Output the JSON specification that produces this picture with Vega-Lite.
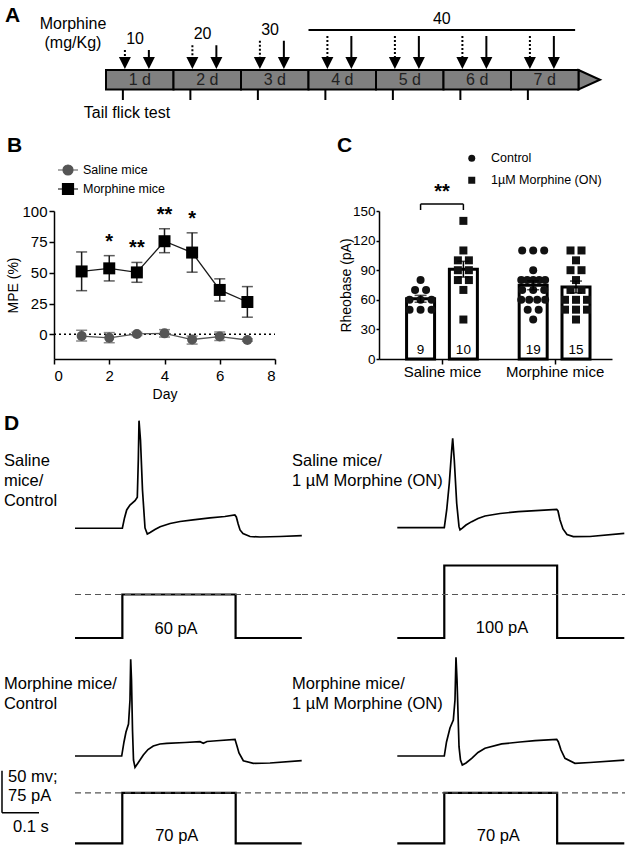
{
  "$schema": "https://vega.github.io/schema/vega-lite/v6.json",
  "padding": 0,
  "bounds": "flush",
  "spacing": 0,
  "resolve": {
    "scale": {"shape": "independent", "fill": "independent", "color": "independent", "strokeDash": "independent"},
    "legend": {"shape": "independent", "fill": "independent", "color": "independent", "strokeDash": "independent"}
  },
  "config": {
    "font": "Liberation Sans",
    "view": {"stroke": null},
    "axis": {"domainColor": "#000", "domainWidth": 1.5, "tickColor": "#000", "tickWidth": 1.5, "tickSize": 5, "labelColor": "#000", "labelFontSize": 15, "titleFontSize": 14, "titleFontWeight": "normal", "titleColor": "#000", "grid": false, "labelPadding": 2, "labelOverlap": false, "labelFont": "Liberation Sans", "titleFont": "Liberation Sans"},
    "legend": {"labelFont": "Liberation Sans", "labelColor": "#000"},
    "text": {"font": "Liberation Sans", "color": "#000"}
  },
  "datasets": {
    "days": [
      {"day": 1, "label": "1 d"}, {"day": 2, "label": "2 d"}, {"day": 3, "label": "3 d"}, {"day": 4, "label": "4 d"},
      {"day": 5, "label": "5 d"}, {"day": 6, "label": "6 d"}, {"day": 7, "label": "7 d"}
    ],
    "injections": [
      {"day": 1, "dose": 10, "inj": "1st"}, {"day": 1, "dose": 10, "inj": "2nd"},
      {"day": 2, "dose": 20, "inj": "1st"}, {"day": 2, "dose": 20, "inj": "2nd"},
      {"day": 3, "dose": 30, "inj": "1st"}, {"day": 3, "dose": 30, "inj": "2nd"},
      {"day": 4, "dose": 40, "inj": "1st"}, {"day": 4, "dose": 40, "inj": "2nd"},
      {"day": 5, "dose": 40, "inj": "1st"}, {"day": 5, "dose": 40, "inj": "2nd"},
      {"day": 6, "dose": 40, "inj": "1st"}, {"day": 6, "dose": 40, "inj": "2nd"},
      {"day": 7, "dose": 40, "inj": "1st"}, {"day": 7, "dose": 40, "inj": "2nd"}
    ],
    "doses": [
      {"dose": 10, "first": 1, "last": 1}, {"dose": 20, "first": 2, "last": 2},
      {"dose": 30, "first": 3, "last": 3}, {"dose": 40, "first": 4, "last": 7}
    ],
    "mpe": [
      {"group": "Saline mice", "day": 1, "mpe": -1.4, "lo": -5.4, "hi": 3.3},
      {"group": "Saline mice", "day": 2, "mpe": -2.8, "lo": -6.8, "hi": 1.4},
      {"group": "Saline mice", "day": 3, "mpe": 0.3, "lo": -1.0, "hi": 1.6},
      {"group": "Saline mice", "day": 4, "mpe": 0.8, "lo": -2.2, "hi": 3.8},
      {"group": "Saline mice", "day": 5, "mpe": -4.2, "lo": -7.9, "hi": -1.4},
      {"group": "Saline mice", "day": 6, "mpe": -1.8, "lo": -5.0, "hi": 1.9},
      {"group": "Saline mice", "day": 7, "mpe": -4.6, "lo": -5.5, "hi": -3.7},
      {"group": "Morphine mice", "day": 1, "mpe": 51, "lo": 35.4, "hi": 66.8},
      {"group": "Morphine mice", "day": 2, "mpe": 53.5, "lo": 43.3, "hi": 63.8, "sig": "*"},
      {"group": "Morphine mice", "day": 3, "mpe": 50.2, "lo": 42.2, "hi": 58.3, "sig": "**"},
      {"group": "Morphine mice", "day": 4, "mpe": 75.5, "lo": 66.2, "hi": 85.6, "sig": "**"},
      {"group": "Morphine mice", "day": 5, "mpe": 66.3, "lo": 50.4, "hi": 82.3, "sig": "*"},
      {"group": "Morphine mice", "day": 6, "mpe": 36, "lo": 27, "hi": 45},
      {"group": "Morphine mice", "day": 7, "mpe": 26.2, "lo": 13.9, "hi": 38.7}
    ],
    "rheo_bars": [
      {"mice": "Saline mice", "treatment": "Control", "mean": 61, "sem": 3.5, "n": 9},
      {"mice": "Saline mice", "treatment": "1µM Morphine (ON)", "mean": 91, "sem": 8, "n": 10},
      {"mice": "Morphine mice", "treatment": "Control", "mean": 74.7, "sem": 4.5, "n": 19},
      {"mice": "Morphine mice", "treatment": "1µM Morphine (ON)", "mean": 73, "sem": 6, "n": 15}
    ],
    "rheo_pts": [
      {"mice": "Saline mice", "treatment": "Control", "rheobase": 80},
      {"mice": "Saline mice", "treatment": "Control", "rheobase": 70},
      {"mice": "Saline mice", "treatment": "Control", "rheobase": 70},
      {"mice": "Saline mice", "treatment": "Control", "rheobase": 60},
      {"mice": "Saline mice", "treatment": "Control", "rheobase": 60},
      {"mice": "Saline mice", "treatment": "Control", "rheobase": 60},
      {"mice": "Saline mice", "treatment": "Control", "rheobase": 50},
      {"mice": "Saline mice", "treatment": "Control", "rheobase": 50},
      {"mice": "Saline mice", "treatment": "Control", "rheobase": 50},
      {"mice": "Saline mice", "treatment": "1µM Morphine (ON)", "rheobase": 140},
      {"mice": "Saline mice", "treatment": "1µM Morphine (ON)", "rheobase": 110},
      {"mice": "Saline mice", "treatment": "1µM Morphine (ON)", "rheobase": 100},
      {"mice": "Saline mice", "treatment": "1µM Morphine (ON)", "rheobase": 100},
      {"mice": "Saline mice", "treatment": "1µM Morphine (ON)", "rheobase": 90},
      {"mice": "Saline mice", "treatment": "1µM Morphine (ON)", "rheobase": 90},
      {"mice": "Saline mice", "treatment": "1µM Morphine (ON)", "rheobase": 80},
      {"mice": "Saline mice", "treatment": "1µM Morphine (ON)", "rheobase": 80},
      {"mice": "Saline mice", "treatment": "1µM Morphine (ON)", "rheobase": 70},
      {"mice": "Saline mice", "treatment": "1µM Morphine (ON)", "rheobase": 40},
      {"mice": "Morphine mice", "treatment": "Control", "rheobase": 110},
      {"mice": "Morphine mice", "treatment": "Control", "rheobase": 110},
      {"mice": "Morphine mice", "treatment": "Control", "rheobase": 110},
      {"mice": "Morphine mice", "treatment": "Control", "rheobase": 90},
      {"mice": "Morphine mice", "treatment": "Control", "rheobase": 80},
      {"mice": "Morphine mice", "treatment": "Control", "rheobase": 80},
      {"mice": "Morphine mice", "treatment": "Control", "rheobase": 80},
      {"mice": "Morphine mice", "treatment": "Control", "rheobase": 80},
      {"mice": "Morphine mice", "treatment": "Control", "rheobase": 80},
      {"mice": "Morphine mice", "treatment": "Control", "rheobase": 70},
      {"mice": "Morphine mice", "treatment": "Control", "rheobase": 70},
      {"mice": "Morphine mice", "treatment": "Control", "rheobase": 70},
      {"mice": "Morphine mice", "treatment": "Control", "rheobase": 60},
      {"mice": "Morphine mice", "treatment": "Control", "rheobase": 60},
      {"mice": "Morphine mice", "treatment": "Control", "rheobase": 60},
      {"mice": "Morphine mice", "treatment": "Control", "rheobase": 60},
      {"mice": "Morphine mice", "treatment": "Control", "rheobase": 50},
      {"mice": "Morphine mice", "treatment": "Control", "rheobase": 50},
      {"mice": "Morphine mice", "treatment": "Control", "rheobase": 40},
      {"mice": "Morphine mice", "treatment": "1µM Morphine (ON)", "rheobase": 110},
      {"mice": "Morphine mice", "treatment": "1µM Morphine (ON)", "rheobase": 110},
      {"mice": "Morphine mice", "treatment": "1µM Morphine (ON)", "rheobase": 100},
      {"mice": "Morphine mice", "treatment": "1µM Morphine (ON)", "rheobase": 90},
      {"mice": "Morphine mice", "treatment": "1µM Morphine (ON)", "rheobase": 90},
      {"mice": "Morphine mice", "treatment": "1µM Morphine (ON)", "rheobase": 80},
      {"mice": "Morphine mice", "treatment": "1µM Morphine (ON)", "rheobase": 70},
      {"mice": "Morphine mice", "treatment": "1µM Morphine (ON)", "rheobase": 70},
      {"mice": "Morphine mice", "treatment": "1µM Morphine (ON)", "rheobase": 60},
      {"mice": "Morphine mice", "treatment": "1µM Morphine (ON)", "rheobase": 60},
      {"mice": "Morphine mice", "treatment": "1µM Morphine (ON)", "rheobase": 60},
      {"mice": "Morphine mice", "treatment": "1µM Morphine (ON)", "rheobase": 50},
      {"mice": "Morphine mice", "treatment": "1µM Morphine (ON)", "rheobase": 50},
      {"mice": "Morphine mice", "treatment": "1µM Morphine (ON)", "rheobase": 50},
      {"mice": "Morphine mice", "treatment": "1µM Morphine (ON)", "rheobase": 40}
    ],
    "traces": [
      {"cell": "TL", "t": 0, "mV": -65}, {"cell": "TL", "t": 0.128, "mV": -65}, {"cell": "TL", "t": 0.1338, "mV": -52.7},
      {"cell": "TL", "t": 0.1397, "mV": -43.2}, {"cell": "TL", "t": 0.1486, "mV": -37.3}, {"cell": "TL", "t": 0.1622, "mV": -32.1},
      {"cell": "TL", "t": 0.1684, "mV": -28.1}, {"cell": "TL", "t": 0.1711, "mV": 16.3}, {"cell": "TL", "t": 0.173, "mV": 63.1},
      {"cell": "TL", "t": 0.177, "mV": 40.1}, {"cell": "TL", "t": 0.1824, "mV": -19.4}, {"cell": "TL", "t": 0.1892, "mV": -64.6},
      {"cell": "TL", "t": 0.1954, "mV": -71.8}, {"cell": "TL", "t": 0.203, "mV": -70}, {"cell": "TL", "t": 0.216, "mV": -66.4},
      {"cell": "TL", "t": 0.23, "mV": -63.1}, {"cell": "TL", "t": 0.257, "mV": -59.3}, {"cell": "TL", "t": 0.284, "mV": -56.9},
      {"cell": "TL", "t": 0.319, "mV": -55.1}, {"cell": "TL", "t": 0.365, "mV": -52.7}, {"cell": "TL", "t": 0.405, "mV": -51},
      {"cell": "TL", "t": 0.432, "mV": -49.2}, {"cell": "TL", "t": 0.436, "mV": -51.5}, {"cell": "TL", "t": 0.441, "mV": -59.9},
      {"cell": "TL", "t": 0.446, "mV": -67}, {"cell": "TL", "t": 0.454, "mV": -71.2}, {"cell": "TL", "t": 0.473, "mV": -74.8},
      {"cell": "TL", "t": 0.5, "mV": -75.4}, {"cell": "TL", "t": 0.554, "mV": -74.8}, {"cell": "TL", "t": 0.613, "mV": -73.8},
      {"cell": "TR", "t": 0, "mV": -64.3}, {"cell": "TR", "t": 0.127, "mV": -64.3}, {"cell": "TR", "t": 0.1335, "mV": -43.2},
      {"cell": "TR", "t": 0.1405, "mV": -11.4}, {"cell": "TR", "t": 0.147, "mV": 28.2}, {"cell": "TR", "t": 0.1497, "mV": 42.1},
      {"cell": "TR", "t": 0.154, "mV": 16.3}, {"cell": "TR", "t": 0.1605, "mV": -35.2}, {"cell": "TR", "t": 0.1668, "mV": -63.1},
      {"cell": "TR", "t": 0.1695, "mV": -67}, {"cell": "TR", "t": 0.1749, "mV": -65.2}, {"cell": "TR", "t": 0.1857, "mV": -61.1},
      {"cell": "TR", "t": 0.2011, "mV": -57.1}, {"cell": "TR", "t": 0.2181, "mV": -53.3}, {"cell": "TR", "t": 0.237, "mV": -50.4},
      {"cell": "TR", "t": 0.2778, "mV": -47.4}, {"cell": "TR", "t": 0.327, "mV": -45.2}, {"cell": "TR", "t": 0.3857, "mV": -43.8},
      {"cell": "TR", "t": 0.4308, "mV": -42.4}, {"cell": "TR", "t": 0.4343, "mV": -44.4}, {"cell": "TR", "t": 0.4397, "mV": -55.1},
      {"cell": "TR", "t": 0.4478, "mV": -65.8}, {"cell": "TR", "t": 0.4586, "mV": -72.4}, {"cell": "TR", "t": 0.4757, "mV": -75},
      {"cell": "TR", "t": 0.5208, "mV": -74.8}, {"cell": "TR", "t": 0.6135, "mV": -71},
      {"cell": "BL", "t": 0, "mV": -65}, {"cell": "BL", "t": 0.1262, "mV": -65}, {"cell": "BL", "t": 0.1324, "mV": -48.3},
      {"cell": "BL", "t": 0.1378, "mV": -36.4}, {"cell": "BL", "t": 0.1446, "mV": -26.9}, {"cell": "BL", "t": 0.1486, "mV": 1.7},
      {"cell": "BL", "t": 0.1505, "mV": 50.1}, {"cell": "BL", "t": 0.1527, "mV": 25.5}, {"cell": "BL", "t": 0.1554, "mV": -34},
      {"cell": "BL", "t": 0.1581, "mV": -69.8}, {"cell": "BL", "t": 0.1622, "mV": -78.5}, {"cell": "BL", "t": 0.1703, "mV": -73.3},
      {"cell": "BL", "t": 0.1846, "mV": -63.8}, {"cell": "BL", "t": 0.1973, "mV": -57.3}, {"cell": "BL", "t": 0.2116, "mV": -53.1},
      {"cell": "BL", "t": 0.2297, "mV": -50.7}, {"cell": "BL", "t": 0.2478, "mV": -49.9}, {"cell": "BL", "t": 0.2973, "mV": -48.9},
      {"cell": "BL", "t": 0.3378, "mV": -48}, {"cell": "BL", "t": 0.3468, "mV": -49.9}, {"cell": "BL", "t": 0.3568, "mV": -47.7},
      {"cell": "BL", "t": 0.383, "mV": -46.8}, {"cell": "BL", "t": 0.4324, "mV": -45.1}, {"cell": "BL", "t": 0.437, "mV": -51.9},
      {"cell": "BL", "t": 0.4432, "mV": -61.4}, {"cell": "BL", "t": 0.4549, "mV": -70.6}, {"cell": "BL", "t": 0.4819, "mV": -73.7},
      {"cell": "BL", "t": 0.527, "mV": -73.3}, {"cell": "BL", "t": 0.6127, "mV": -70.6},
      {"cell": "BR", "t": 0, "mV": -65}, {"cell": "BR", "t": 0.127, "mV": -65}, {"cell": "BR", "t": 0.133, "mV": -48.3},
      {"cell": "BR", "t": 0.1424, "mV": -31.7}, {"cell": "BR", "t": 0.1514, "mV": -22.1}, {"cell": "BR", "t": 0.1559, "mV": 1.7},
      {"cell": "BR", "t": 0.1586, "mV": 52.5}, {"cell": "BR", "t": 0.1614, "mV": 25.5}, {"cell": "BR", "t": 0.1668, "mV": -53.9},
      {"cell": "BR", "t": 0.1708, "mV": -69.8}, {"cell": "BR", "t": 0.1757, "mV": -75.7}, {"cell": "BR", "t": 0.1857, "mV": -73.3},
      {"cell": "BR", "t": 0.2011, "mV": -67.7}, {"cell": "BR", "t": 0.2181, "mV": -60.8}, {"cell": "BR", "t": 0.237, "mV": -55.8},
      {"cell": "BR", "t": 0.2822, "mV": -50.6}, {"cell": "BR", "t": 0.3316, "mV": -48.3}, {"cell": "BR", "t": 0.3722, "mV": -46.7},
      {"cell": "BR", "t": 0.4308, "mV": -45.1}, {"cell": "BR", "t": 0.4351, "mV": -47.9}, {"cell": "BR", "t": 0.4424, "mV": -57.9},
      {"cell": "BR", "t": 0.4532, "mV": -67.7}, {"cell": "BR", "t": 0.48, "mV": -73.7}, {"cell": "BR", "t": 0.5208, "mV": -72.7},
      {"cell": "BR", "t": 0.6135, "mV": -69.8}
    ],
    "steps": [
      {"cell": "TL", "t": 0, "pA": 0}, {"cell": "TL", "t": 0.128, "pA": 60}, {"cell": "TL", "t": 0.434, "pA": 0}, {"cell": "TL", "t": 0.613, "pA": 0},
      {"cell": "TR", "t": 0, "pA": 0}, {"cell": "TR", "t": 0.127, "pA": 100}, {"cell": "TR", "t": 0.432, "pA": 0}, {"cell": "TR", "t": 0.6135, "pA": 0},
      {"cell": "BL", "t": 0, "pA": 0}, {"cell": "BL", "t": 0.1278, "pA": 70}, {"cell": "BL", "t": 0.4343, "pA": 0}, {"cell": "BL", "t": 0.6127, "pA": 0},
      {"cell": "BR", "t": 0, "pA": 0}, {"cell": "BR", "t": 0.127, "pA": 70}, {"cell": "BR", "t": 0.432, "pA": 0}, {"cell": "BR", "t": 0.6135, "pA": 0}
    ]
  },
  "vconcat": [
    {
      "width": 625,
      "height": 211,
      "layer": [
        {
          "data": {"values": [{"part": "timeline end"}]},
          "mark": {"type": "point", "shape": "M-1,-0.907L1,0L-1,0.907Z", "size": 462, "filled": true, "fill": "#808080", "stroke": "#000", "strokeWidth": 2, "opacity": 1},
          "encoding": {
            "x": {"datum": 7.159, "type": "quantitative", "scale": {"domain": [-1.5704, 7.6889], "nice": false, "zero": false}, "axis": null},
            "y": {"datum": 79.75, "type": "quantitative", "scale": {"domain": [0, 211], "reverse": true, "nice": false, "zero": false}, "axis": null}
          }
        },
        {
          "data": {"name": "days"},
          "transform": [{"calculate": "datum.day - 1", "as": "d0"}],
          "mark": {"type": "rect", "fill": "#808080", "stroke": "#000", "strokeWidth": 2},
          "encoding": {
            "x": {"field": "d0", "type": "quantitative"},
            "x2": {"field": "day"},
            "y": {"datum": 70, "type": "quantitative"},
            "y2": {"datum": 89.5}
          }
        },
        {
          "data": {"name": "days"},
          "transform": [{"calculate": "datum.day - 0.5", "as": "dm"}],
          "mark": {"type": "text", "fontSize": 16, "color": "#222", "baseline": "middle", "align": "center"},
          "encoding": {
            "x": {"field": "dm", "type": "quantitative"},
            "y": {"datum": 79.75, "type": "quantitative"},
            "text": {"field": "label"}
          }
        },
        {
          "data": {"name": "injections"},
          "transform": [
            {"calculate": "datum.day - 1 + (datum.inj === '1st' ? 0.28 : 0.635)", "as": "ix"},
            {"calculate": "50 - (datum.dose - 10) * 0.4667", "as": "ytop"}
          ],
          "mark": {"type": "rule", "strokeWidth": 2, "color": "#000"},
          "encoding": {
            "x": {"field": "ix", "type": "quantitative"},
            "y": {"field": "ytop", "type": "quantitative"},
            "y2": {"datum": 58},
            "strokeDash": {"field": "inj", "type": "nominal", "scale": {"domain": ["1st", "2nd"], "range": [[2, 2], [1, 0]]}, "legend": null}
          }
        },
        {
          "data": {"name": "injections"},
          "transform": [{"calculate": "datum.day - 1 + (datum.inj === '1st' ? 0.28 : 0.635)", "as": "ix"}],
          "mark": {"type": "point", "shape": "M-1,-1L1,-1L0,1Z", "size": 144, "filled": true, "color": "#000", "opacity": 1},
          "encoding": {
            "x": {"field": "ix", "type": "quantitative"},
            "y": {"datum": 63, "type": "quantitative"}
          }
        },
        {
          "data": {"name": "days"},
          "transform": [{"calculate": "datum.day - 0.75", "as": "tx"}],
          "mark": {"type": "rule", "strokeWidth": 2, "color": "#000"},
          "encoding": {
            "x": {"field": "tx", "type": "quantitative"},
            "y": {"datum": 89.5, "type": "quantitative"},
            "y2": {"datum": 100}
          }
        },
        {
          "data": {"name": "doses"},
          "transform": [
            {"calculate": "datum.first === datum.last ? datum.first - 0.57 : (datum.first - 1 + datum.last - 0.05) / 2", "as": "lx"},
            {"calculate": "datum.first === datum.last ? 39 - (datum.dose - 10) * 0.4667 : 19", "as": "ly"}
          ],
          "mark": {"type": "text", "fontSize": 16, "baseline": "middle", "align": "center"},
          "encoding": {
            "x": {"field": "lx", "type": "quantitative"},
            "y": {"field": "ly", "type": "quantitative"},
            "text": {"field": "dose"}
          }
        },
        {
          "data": {"name": "doses"},
          "transform": [
            {"filter": "datum.first !== datum.last"},
            {"calculate": "datum.first - 1", "as": "r1"},
            {"calculate": "datum.last - 0.05", "as": "r2"}
          ],
          "mark": {"type": "rule", "strokeWidth": 2, "color": "#000"},
          "encoding": {
            "x": {"field": "r1", "type": "quantitative"},
            "x2": {"field": "r2"},
            "y": {"datum": 30, "type": "quantitative"}
          }
        },
        {
          "data": {"values": [{"label": "Morphine\n(mg/Kg)"}]},
          "mark": {"type": "text", "fontSize": 16, "baseline": "top", "align": "center", "lineBreak": "\n", "lineHeight": 19},
          "encoding": {
            "x": {"datum": -0.489, "type": "quantitative"},
            "y": {"datum": 16, "type": "quantitative"},
            "text": {"field": "label"}
          }
        },
        {
          "data": {"values": [{"label": "Tail flick test"}]},
          "mark": {"type": "text", "fontSize": 16, "baseline": "middle", "align": "center"},
          "encoding": {
            "x": {"datum": 0.311, "type": "quantitative"},
            "y": {"datum": 113, "type": "quantitative"},
            "text": {"field": "label"}
          }
        },
        {
          "data": {"values": [{"panel": "A"}]},
          "mark": {"type": "text", "fontSize": 21, "fontWeight": "bold", "baseline": "alphabetic", "align": "left"},
          "encoding": {
            "x": {"datum": -1.496, "type": "quantitative"},
            "y": {"datum": 22, "type": "quantitative"},
            "text": {"field": "panel"}
          }
        },
        {
          "data": {"name": "mpe"},
          "transform": [{"filter": "datum.day === 1"}],
          "mark": {"type": "point", "filled": true, "clip": true, "opacity": 1},
          "encoding": {
            "x": {"field": "day", "type": "quantitative"},
            "y": {"datum": -500, "type": "quantitative"},
            "shape": {"field": "group", "type": "nominal", "scale": {"domain": ["Saline mice", "Morphine mice"], "range": ["M-1,0H1M0.5,0A0.5,0.5,0,1,1,-0.5,0A0.5,0.5,0,1,1,0.5,0Z", "M-1,0H1M-0.55,-0.55H0.55V0.55H-0.55Z"]}, "legend": {"orient": "none", "legendX": 57, "legendY": 159, "title": null, "symbolSize": 400, "labelFontSize": 12.5, "labelOffset": 4, "rowPadding": 0, "padding": 0, "symbolOpacity": 1, "encode": {"symbols": {"update": {"stroke": {"signal": "datum.value === 'Saline mice' ? '#555555' : '#000000'"}, "strokeWidth": {"value": 1.2}, "strokeOpacity": {"value": 1}}}}}},
            "fill": {"field": "group", "type": "nominal", "scale": {"domain": ["Saline mice", "Morphine mice"], "range": ["#555555", "#000000"]}, "legend": {"orient": "none", "legendX": 57, "legendY": 159, "title": null, "symbolSize": 400, "labelFontSize": 12.5, "labelOffset": 4, "rowPadding": 0, "padding": 0, "symbolOpacity": 1, "encode": {"symbols": {"update": {"stroke": {"signal": "datum.value === 'Saline mice' ? '#555555' : '#000000'"}, "strokeWidth": {"value": 1.2}, "strokeOpacity": {"value": 1}}}}}}
          }
        }
      ]
    },
    {
      "width": 625,
      "height": 148,
      "layer": [
        {
          "data": {"name": "mpe"},
          "layer": [
            {
              "data": {"values": [{"ref": 0}]},
              "mark": {"type": "rule", "strokeDash": [2, 3], "strokeWidth": 1.5, "color": "#000"},
              "encoding": {
                "x": {"datum": 0, "type": "quantitative", "scale": {"domain": [0, 8], "range": [54, 275], "nice": false, "zero": false}, "title": "Day", "axis": {"orient": "bottom", "values": [0, 2, 4, 6, 8], "tickCount": 10, "title": "Day", "labelPadding": 4, "titlePadding": 4, "format": "d", "labelOverlap": false}},
                "x2": {"datum": 8},
                "y": {"field": "ref", "type": "quantitative", "scale": {"domain": [-20, 100], "nice": false, "zero": false}, "title": "MPE (%)", "axis": {"orient": "left", "offset": -54, "values": [0, 25, 50, 75, 100], "tickCount": 10, "title": "MPE (%)", "titlePadding": 1, "labelOverlap": false}}
              }
            },
            {
              "mark": {"type": "rule", "strokeWidth": 1.5},
              "encoding": {
                "x": {"field": "day", "type": "quantitative", "title": "Day"},
                "y": {"field": "lo", "type": "quantitative", "title": "MPE (%)"},
                "y2": {"field": "hi"},
                "color": {"field": "group", "type": "nominal", "scale": {"domain": ["Saline mice", "Morphine mice"], "range": ["#555555", "#1a1a1a"]}, "legend": null}
              }
            },
            {
              "mark": {"type": "tick", "orient": "horizontal", "size": 11, "thickness": 1.5},
              "encoding": {
                "x": {"field": "day", "type": "quantitative", "title": "Day"},
                "y": {"field": "lo", "type": "quantitative", "title": "MPE (%)"},
                "color": {"field": "group", "type": "nominal", "legend": null}
              }
            },
            {
              "mark": {"type": "tick", "orient": "horizontal", "size": 11, "thickness": 1.5},
              "encoding": {
                "x": {"field": "day", "type": "quantitative", "title": "Day"},
                "y": {"field": "hi", "type": "quantitative", "title": "MPE (%)"},
                "color": {"field": "group", "type": "nominal", "legend": null}
              }
            },
            {
              "mark": {"type": "line", "strokeWidth": 1.3},
              "encoding": {
                "x": {"field": "day", "type": "quantitative", "title": "Day"},
                "y": {"field": "mpe", "type": "quantitative", "title": "MPE (%)"},
                "color": {"field": "group", "type": "nominal", "legend": null}
              }
            },
            {
              "transform": [{"filter": "datum.group === 'Saline mice'"}],
              "mark": {"type": "point", "shape": "circle", "size": 100, "filled": true, "color": "#555555", "opacity": 1},
              "encoding": {
                "x": {"field": "day", "type": "quantitative", "title": "Day"},
                "y": {"field": "mpe", "type": "quantitative", "title": "MPE (%)"}
              }
            },
            {
              "transform": [{"filter": "datum.group === 'Morphine mice'"}],
              "mark": {"type": "point", "shape": "square", "size": 144, "filled": true, "color": "#000", "opacity": 1},
              "encoding": {
                "x": {"field": "day", "type": "quantitative", "title": "Day"},
                "y": {"field": "mpe", "type": "quantitative", "title": "MPE (%)"}
              }
            },
            {
              "transform": [{"filter": "datum.sig != null"}, {"calculate": "datum.hi + 6.5", "as": "sy"}],
              "mark": {"type": "text", "fontSize": 20, "fontWeight": "bold", "baseline": "alphabetic", "align": "center"},
              "encoding": {
                "x": {"field": "day", "type": "quantitative", "title": "Day"},
                "y": {"field": "sy", "type": "quantitative", "title": "MPE (%)"},
                "text": {"field": "sig"}
              }
            },
            {
              "data": {"values": [{"panel": "B"}]},
              "mark": {"type": "text", "fontSize": 21, "fontWeight": "bold", "baseline": "alphabetic", "align": "left"},
              "encoding": {
                "x": {"datum": -1.703, "type": "quantitative", "title": "Day"},
                "y": {"datum": 148, "type": "quantitative", "title": "MPE (%)"},
                "text": {"field": "panel"}
              }
            }
          ]
        },
        {
          "layer": [
            {
              "data": {"name": "rheo_bars"},
              "transform": [{"calculate": "(datum.mice === 'Saline mice' ? 2.6 : 7.65) + (datum.treatment === 'Control' ? -0.96 : 0.96)", "as": "bx"}],
              "mark": {"type": "bar", "size": 28, "fill": "#fff", "stroke": "#000", "strokeWidth": 3},
              "encoding": {
                "x": {"field": "bx", "type": "quantitative", "scale": {"domain": [0, 10], "range": [379, 612], "nice": false, "zero": false}, "title": null, "axis": {"orient": "bottom", "values": [2.6, 7.65], "tickCount": 10, "labelExpr": "datum.value < 5 ? 'Saline mice' : 'Morphine mice'", "title": null, "labelPadding": 0.5, "labelOverlap": false}},
                "y": {"field": "mean", "type": "quantitative", "scale": {"domain": [0, 150], "nice": false}, "title": "Rheobase (pA)", "axis": {"orient": "left", "offset": -379, "values": [0, 30, 60, 90, 120, 150], "tickCount": 10, "title": "Rheobase (pA)", "titlePadding": -1, "tickSize": 3, "labelPadding": 1, "labelFontSize": 13.5, "labelOverlap": false}}
              }
            },
            {
              "data": {"name": "rheo_pts"},
              "transform": [
                {"window": [{"op": "row_number", "as": "rk"}, {"op": "count", "as": "nsame"}], "groupby": ["mice", "treatment", "rheobase"], "frame": [null, null]},
                {"calculate": "(datum.mice === 'Saline mice' ? 2.6 : 7.65) + (datum.treatment === 'Control' ? -0.96 : 0.96)", "as": "bx"},
                {"calculate": "datum.nsame > 1 ? (datum.rk - (datum.nsame + 1) / 2) * min(11.5, 25 / (datum.nsame - 1)) / 23.3 : 0", "as": "jit"},
                {"calculate": "datum.bx + datum.jit", "as": "px"}
              ],
              "mark": {"type": "point", "filled": true, "size": 64, "color": "#111", "opacity": 1},
              "encoding": {
                "x": {"field": "px", "type": "quantitative", "title": null},
                "y": {"field": "rheobase", "type": "quantitative", "title": "Rheobase (pA)"},
                "shape": {"field": "treatment", "type": "nominal", "scale": {"domain": ["Control", "1µM Morphine (ON)"], "range": ["circle", "square"]}, "legend": {"orient": "none", "legendX": 465.5, "legendY": -59, "title": null, "symbolSize": 49, "labelFontSize": 12.5, "labelOffset": 13, "rowPadding": 9, "padding": 0, "symbolFillColor": "#111", "symbolStrokeWidth": 0}}
              }
            },
            {
              "data": {"name": "rheo_bars"},
              "transform": [
                {"calculate": "(datum.mice === 'Saline mice' ? 2.6 : 7.65) + (datum.treatment === 'Control' ? -0.96 : 0.96)", "as": "bx"},
                {"calculate": "datum.mean - datum.sem", "as": "lo"},
                {"calculate": "datum.mean + datum.sem", "as": "hi"}
              ],
              "layer": [
                {
                  "mark": {"type": "rule", "strokeWidth": 1.5, "color": "#000"},
                  "encoding": {
                    "x": {"field": "bx", "type": "quantitative", "title": null},
                    "y": {"field": "lo", "type": "quantitative", "title": "Rheobase (pA)"},
                    "y2": {"field": "hi"}
                  }
                },
                {
                  "mark": {"type": "tick", "orient": "horizontal", "size": 12, "thickness": 1.5, "color": "#000"},
                  "encoding": {
                    "x": {"field": "bx", "type": "quantitative", "title": null},
                    "y": {"field": "hi", "type": "quantitative", "title": "Rheobase (pA)"}
                  }
                },
                {
                  "mark": {"type": "tick", "orient": "horizontal", "size": 12, "thickness": 1.5, "color": "#000"},
                  "encoding": {
                    "x": {"field": "bx", "type": "quantitative", "title": null},
                    "y": {"field": "lo", "type": "quantitative", "title": "Rheobase (pA)"}
                  }
                },
                {
                  "mark": {"type": "text", "fontSize": 13.5, "baseline": "middle", "align": "center"},
                  "encoding": {
                    "x": {"field": "bx", "type": "quantitative", "title": null},
                    "y": {"datum": 9.5, "type": "quantitative", "title": "Rheobase (pA)"},
                    "text": {"field": "n"}
                  }
                }
              ]
            },
            {
              "data": {"values": [{"comparison": "Saline mice", "label": "**"}]},
              "layer": [
                {
                  "mark": {"type": "rule", "strokeWidth": 1.5, "color": "#000"},
                  "encoding": {"x": {"datum": 1.64, "type": "quantitative", "title": null}, "x2": {"datum": 3.56}, "y": {"datum": 157, "type": "quantitative", "title": "Rheobase (pA)"}}
                },
                {
                  "mark": {"type": "rule", "strokeWidth": 1.5, "color": "#000"},
                  "encoding": {"x": {"datum": 1.64, "type": "quantitative", "title": null}, "y": {"datum": 151, "type": "quantitative", "title": "Rheobase (pA)"}, "y2": {"datum": 157}}
                },
                {
                  "mark": {"type": "rule", "strokeWidth": 1.5, "color": "#000"},
                  "encoding": {"x": {"datum": 3.56, "type": "quantitative", "title": null}, "y": {"datum": 151, "type": "quantitative", "title": "Rheobase (pA)"}, "y2": {"datum": 157}}
                },
                {
                  "mark": {"type": "text", "fontSize": 20, "fontWeight": "bold", "baseline": "alphabetic", "align": "center"},
                  "encoding": {"x": {"datum": 2.6, "type": "quantitative", "title": null}, "y": {"datum": 163, "type": "quantitative", "title": "Rheobase (pA)"}, "text": {"field": "label"}}
                }
              ]
            },
            {
              "data": {"values": [{"panel": "C"}]},
              "mark": {"type": "text", "fontSize": 21, "fontWeight": "bold", "baseline": "alphabetic", "align": "left"},
              "encoding": {
                "x": {"datum": -2.103, "type": "quantitative", "title": null},
                "y": {"datum": 209.7, "type": "quantitative", "title": "Rheobase (pA)"},
                "text": {"field": "panel"}
              }
            }
          ]
        }
      ],
      "resolve": {
        "scale": {"x": "independent", "y": "independent"},
        "axis": {"x": "independent", "y": "independent"}
      }
    },
    {
      "width": 625,
      "height": 291,
      "layer": [
        {
          "data": {"name": "traces"},
          "transform": [{"filter": "datum.cell === 'TL'"}],
          "mark": {"type": "line", "color": "#000", "strokeWidth": 1.7},
          "encoding": {
            "x": {"field": "t", "type": "quantitative", "scale": {"domain": [0, 0.6135], "range": [75, 302], "nice": false, "zero": false}, "axis": null},
            "y": {"field": "mV", "type": "quantitative", "scale": {"domain": [-209.9, 136.5], "nice": false, "zero": false}, "axis": null}
          }
        },
        {
          "data": {"name": "steps"},
          "transform": [{"filter": "datum.cell === 'TL'"}],
          "mark": {"type": "line", "color": "#000", "strokeWidth": 2.2, "interpolate": "step-after"},
          "encoding": {
            "x": {"field": "t", "type": "quantitative", "scale": {"domain": [0, 0.6135], "range": [75, 302], "nice": false, "zero": false}, "axis": null},
            "y": {"field": "pA", "type": "quantitative", "scale": {"domain": [-16.55, 384.8], "nice": false, "zero": false}, "axis": null}
          }
        },
        {
          "data": {"values": [{"level": "60 pA"}]},
          "layer": [
            {
              "mark": {"type": "rule", "strokeDash": [6, 4], "strokeWidth": 1.2, "color": "#555"},
              "encoding": {
                "x": {"datum": 0, "type": "quantitative", "scale": {"domain": [0, 0.6135], "range": [75, 302], "nice": false, "zero": false}, "axis": null},
                "x2": {"datum": 0.6135},
                "y": {"datum": 60, "type": "quantitative", "scale": {"domain": [-16.55, 384.8], "nice": false, "zero": false}, "axis": null}
              }
            },
            {
              "mark": {"type": "text", "fontSize": 16.5, "baseline": "middle", "align": "center"},
              "encoding": {
                "x": {"datum": 0.273, "type": "quantitative"},
                "y": {"datum": 12.4, "type": "quantitative"},
                "text": {"field": "level"}
              }
            }
          ]
        },
        {
          "data": {"values": [{"label": "Saline\nmice/\nControl", "panel": "D"}]},
          "layer": [
            {
              "mark": {"type": "text", "fontSize": 16.5, "baseline": "top", "align": "left", "lineBreak": "\n", "lineHeight": 20},
              "encoding": {
                "x": {"datum": -0.192, "type": "quantitative", "scale": {"domain": [0, 0.6135], "range": [75, 302], "nice": false, "zero": false}, "axis": null},
                "y": {"datum": 24.8, "type": "quantitative", "scale": {"domain": [-209.9, 136.5], "nice": false, "zero": false}, "axis": null},
                "text": {"field": "label"}
              }
            },
            {
              "mark": {"type": "text", "fontSize": 21, "fontWeight": "bold", "baseline": "alphabetic", "align": "left"},
              "encoding": {
                "x": {"datum": -0.192, "type": "quantitative"},
                "y": {"datum": 52, "type": "quantitative"},
                "text": {"field": "panel"}
              }
            }
          ]
        },
        {
          "data": {"name": "traces"},
          "transform": [{"filter": "datum.cell === 'TR'"}],
          "mark": {"type": "line", "color": "#000", "strokeWidth": 1.7},
          "encoding": {
            "x": {"field": "t", "type": "quantitative", "scale": {"domain": [0, 0.6135], "range": [397.3, 624.3], "nice": false, "zero": false}, "axis": null},
            "y": {"field": "mV", "type": "quantitative", "scale": {"domain": [-209.9, 136.5], "nice": false, "zero": false}, "axis": null}
          }
        },
        {
          "data": {"name": "steps"},
          "transform": [{"filter": "datum.cell === 'TR'"}],
          "mark": {"type": "line", "color": "#000", "strokeWidth": 2.2, "interpolate": "step-after"},
          "encoding": {
            "x": {"field": "t", "type": "quantitative", "scale": {"domain": [0, 0.6135], "range": [397.3, 624.3], "nice": false, "zero": false}, "axis": null},
            "y": {"field": "pA", "type": "quantitative", "scale": {"domain": [-16.55, 384.8], "nice": false, "zero": false}, "axis": null}
          }
        },
        {
          "data": {"values": [{"level": "100 pA"}]},
          "layer": [
            {
              "mark": {"type": "rule", "strokeDash": [6, 4], "strokeWidth": 1.2, "color": "#555"},
              "encoding": {
                "x": {"datum": -0.2576, "type": "quantitative", "scale": {"domain": [0, 0.6135], "range": [397.3, 624.3], "nice": false, "zero": false}, "axis": null},
                "x2": {"datum": 0.6154},
                "y": {"datum": 60, "type": "quantitative", "scale": {"domain": [-16.55, 384.8], "nice": false, "zero": false}, "axis": null}
              }
            },
            {
              "mark": {"type": "text", "fontSize": 16.5, "baseline": "middle", "align": "center"},
              "encoding": {
                "x": {"datum": 0.283, "type": "quantitative"},
                "y": {"datum": 13.4, "type": "quantitative"},
                "text": {"field": "level"}
              }
            }
          ]
        },
        {
          "data": {"values": [{"label": "Saline mice/\n1 µM Morphine (ON)"}]},
          "mark": {"type": "text", "fontSize": 16.5, "baseline": "top", "align": "left", "lineBreak": "\n", "lineHeight": 20},
          "encoding": {
            "x": {"datum": -0.2846, "type": "quantitative", "scale": {"domain": [0, 0.6135], "range": [397.3, 624.3], "nice": false, "zero": false}, "axis": null},
            "y": {"datum": 24.8, "type": "quantitative", "scale": {"domain": [-209.9, 136.5], "nice": false, "zero": false}, "axis": null},
            "text": {"field": "label"}
          }
        }
      ],
      "resolve": {"scale": {"x": "independent", "y": "independent"}}
    },
    {
      "width": 625,
      "height": 198,
      "layer": [
        {
          "data": {"name": "traces"},
          "transform": [{"filter": "datum.cell === 'BL'"}],
          "mark": {"type": "line", "color": "#000", "strokeWidth": 1.7},
          "encoding": {
            "x": {"field": "t", "type": "quantitative", "scale": {"domain": [0, 0.6135], "range": [75, 302], "nice": false, "zero": false}, "axis": null},
            "y": {"field": "mV", "type": "quantitative", "scale": {"domain": [-174.5, 61.2], "nice": false, "zero": false}, "axis": null}
          }
        },
        {
          "data": {"name": "steps"},
          "transform": [{"filter": "datum.cell === 'BL'"}],
          "mark": {"type": "line", "color": "#000", "strokeWidth": 2.2, "interpolate": "step-after"},
          "encoding": {
            "x": {"field": "t", "type": "quantitative", "scale": {"domain": [0, 0.6135], "range": [75, 302], "nice": false, "zero": false}, "axis": null},
            "y": {"field": "pA", "type": "quantitative", "scale": {"domain": [-6.53, 268.5], "nice": false, "zero": false}, "axis": null}
          }
        },
        {
          "data": {"values": [{"level": "70 pA"}]},
          "layer": [
            {
              "mark": {"type": "rule", "strokeDash": [6, 4], "strokeWidth": 1.2, "color": "#555"},
              "encoding": {
                "x": {"datum": 0, "type": "quantitative", "scale": {"domain": [0, 0.6135], "range": [75, 302], "nice": false, "zero": false}, "axis": null},
                "x2": {"datum": 0.6135},
                "y": {"datum": 70, "type": "quantitative", "scale": {"domain": [-6.53, 268.5], "nice": false, "zero": false}, "axis": null}
              }
            },
            {
              "mark": {"type": "text", "fontSize": 16.5, "baseline": "middle", "align": "center"},
              "encoding": {
                "x": {"datum": 0.275, "type": "quantitative"},
                "y": {"datum": 10.1, "type": "quantitative"},
                "text": {"field": "level"}
              }
            }
          ]
        },
        {
          "data": {"values": [{"label": "Morphine mice/\nControl", "vbar": "50 mv;\n75 pA", "hbar": "0.1 s"}]},
          "layer": [
            {
              "mark": {"type": "text", "fontSize": 16.5, "baseline": "top", "align": "left", "lineBreak": "\n", "lineHeight": 20},
              "encoding": {
                "x": {"datum": -0.192, "type": "quantitative", "scale": {"domain": [0, 0.6135], "range": [75, 302], "nice": false, "zero": false}, "axis": null},
                "y": {"datum": 30.4, "type": "quantitative", "scale": {"domain": [-174.5, 61.2], "nice": false, "zero": false}, "axis": null},
                "text": {"field": "label"}
              }
            },
            {
              "mark": {"type": "rule", "strokeWidth": 1.5, "color": "#000"},
              "encoding": {
                "x": {"datum": -0.1973, "type": "quantitative"},
                "y": {"datum": -82.5, "type": "quantitative"},
                "y2": {"datum": -132.5}
              }
            },
            {
              "mark": {"type": "rule", "strokeWidth": 1.5, "color": "#000"},
              "encoding": {
                "x": {"datum": -0.1973, "type": "quantitative"},
                "x2": {"datum": -0.0973},
                "y": {"datum": -132.5, "type": "quantitative"}
              }
            },
            {
              "mark": {"type": "text", "fontSize": 16.5, "baseline": "top", "align": "left", "lineBreak": "\n", "lineHeight": 19},
              "encoding": {
                "x": {"datum": -0.181, "type": "quantitative"},
                "y": {"datum": -80.4, "type": "quantitative"},
                "text": {"field": "vbar"}
              }
            },
            {
              "mark": {"type": "text", "fontSize": 16.5, "baseline": "middle", "align": "left"},
              "encoding": {
                "x": {"datum": -0.1676, "type": "quantitative"},
                "y": {"datum": -149.2, "type": "quantitative"},
                "text": {"field": "hbar"}
              }
            }
          ]
        },
        {
          "data": {"name": "traces"},
          "transform": [{"filter": "datum.cell === 'BR'"}],
          "mark": {"type": "line", "color": "#000", "strokeWidth": 1.7},
          "encoding": {
            "x": {"field": "t", "type": "quantitative", "scale": {"domain": [0, 0.6135], "range": [397.3, 624.3], "nice": false, "zero": false}, "axis": null},
            "y": {"field": "mV", "type": "quantitative", "scale": {"domain": [-174.5, 61.2], "nice": false, "zero": false}, "axis": null}
          }
        },
        {
          "data": {"name": "steps"},
          "transform": [{"filter": "datum.cell === 'BR'"}],
          "mark": {"type": "line", "color": "#000", "strokeWidth": 2.2, "interpolate": "step-after"},
          "encoding": {
            "x": {"field": "t", "type": "quantitative", "scale": {"domain": [0, 0.6135], "range": [397.3, 624.3], "nice": false, "zero": false}, "axis": null},
            "y": {"field": "pA", "type": "quantitative", "scale": {"domain": [-6.53, 268.5], "nice": false, "zero": false}, "axis": null}
          }
        },
        {
          "data": {"values": [{"level": "70 pA"}]},
          "layer": [
            {
              "mark": {"type": "rule", "strokeDash": [6, 4], "strokeWidth": 1.2, "color": "#555"},
              "encoding": {
                "x": {"datum": -0.2576, "type": "quantitative", "scale": {"domain": [0, 0.6135], "range": [397.3, 624.3], "nice": false, "zero": false}, "axis": null},
                "x2": {"datum": 0.6154},
                "y": {"datum": 70, "type": "quantitative", "scale": {"domain": [-6.53, 268.5], "nice": false, "zero": false}, "axis": null}
              }
            },
            {
              "mark": {"type": "text", "fontSize": 16.5, "baseline": "middle", "align": "center"},
              "encoding": {
                "x": {"datum": 0.273, "type": "quantitative"},
                "y": {"datum": 10.1, "type": "quantitative"},
                "text": {"field": "level"}
              }
            }
          ]
        },
        {
          "data": {"values": [{"label": "Morphine mice/\n1 µM Morphine (ON)"}]},
          "mark": {"type": "text", "fontSize": 16.5, "baseline": "top", "align": "left", "lineBreak": "\n", "lineHeight": 20},
          "encoding": {
            "x": {"datum": -0.2846, "type": "quantitative", "scale": {"domain": [0, 0.6135], "range": [397.3, 624.3], "nice": false, "zero": false}, "axis": null},
            "y": {"datum": 30.4, "type": "quantitative", "scale": {"domain": [-174.5, 61.2], "nice": false, "zero": false}, "axis": null},
            "text": {"field": "label"}
          }
        }
      ],
      "resolve": {"scale": {"x": "independent", "y": "independent"}}
    }
  ]
}
